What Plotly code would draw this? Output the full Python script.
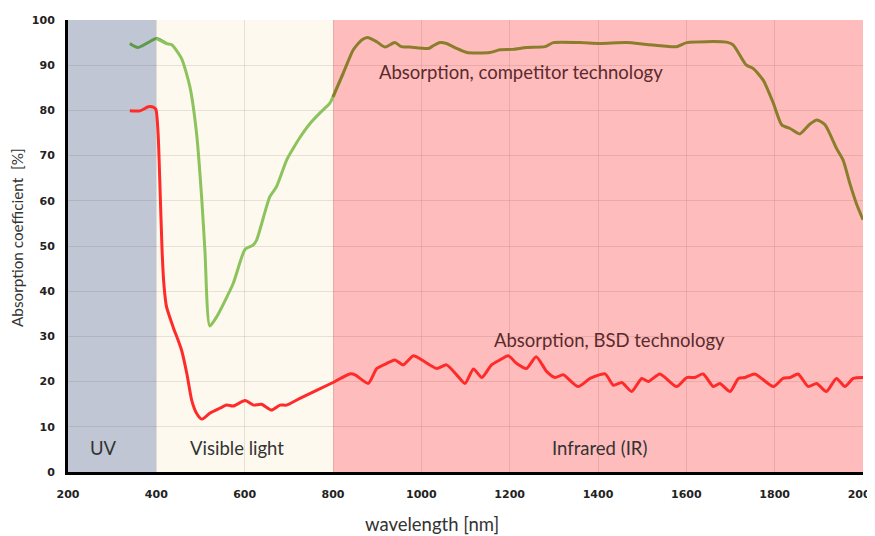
import numpy as np
import plotly.graph_objects as go

# Competitor technology absorption (%)
comp_nm = [340, 358, 381, 400, 423, 435, 457, 476, 491, 503, 510, 521, 537, 574, 601, 619, 627,
           657, 672, 695, 710, 725, 748, 770, 793, 800, 823, 846, 865, 880, 899, 918, 940, 955,
           974, 1016, 1027, 1042, 1057, 1080, 1103, 1155, 1178, 1208, 1238, 1280, 1299, 1359,
           1404, 1465, 1510, 1578, 1601, 1691, 1706, 1736, 1751, 1774, 1797, 1816, 1835, 1857,
           1880, 1896, 1914, 1940, 1955, 1970, 1985, 2000]
comp_val = [94.8, 93.9, 95.0, 95.9, 94.8, 94.5, 91.5, 85.2, 75.0, 60.2, 49.0, 32.3, 34.4, 41.7,
            49.3, 50.2, 51.3, 60.9, 63.1, 69.0, 71.6, 74.0, 77.1, 79.4, 81.6, 83.0, 88.2, 93.4,
            95.6, 96.1, 95.2, 94.0, 95.0, 94.1, 94.0, 93.7, 94.3, 95.0, 94.8, 93.7, 92.8, 92.8,
            93.4, 93.5, 93.9, 94.1, 95.0, 95.0, 94.8, 95.0, 94.6, 94.1, 95.0, 95.1, 94.5, 90.0,
            89.3, 86.7, 81.6, 76.8, 76.0, 74.8, 77.0, 77.9, 76.8, 71.6, 69.0, 63.9, 59.4, 55.8]

# BSD technology absorption (%)
bsd_nm = [340, 363, 382, 393, 399, 404, 408, 413, 417, 423, 438, 457, 469, 480, 491, 503, 521,
          544, 559, 574, 601, 620, 638, 661, 680, 695, 725, 800, 838, 850, 880, 899, 921, 940,
          959, 982, 1001, 1035, 1057, 1080, 1099, 1118, 1137, 1159, 1178, 1197, 1216, 1238,
          1260, 1284, 1303, 1321, 1355, 1382, 1416, 1435, 1454, 1476, 1499, 1514, 1540, 1578,
          1601, 1619, 1638, 1661, 1676, 1699, 1718, 1733, 1755, 1797, 1819, 1835, 1853, 1876,
          1895, 1917, 1940, 1959, 1978, 2000]
bsd_val = [79.9, 79.9, 80.8, 80.7, 80.2, 74.9, 63.9, 49.0, 41.7, 36.6, 32.1, 27.0, 21.8, 15.9,
           13.0, 11.7, 13.0, 14.1, 14.8, 14.6, 15.8, 14.8, 15.0, 13.7, 14.8, 14.8, 16.3, 19.8,
           21.7, 21.5, 19.6, 22.9, 24.0, 24.8, 23.7, 25.7, 24.8, 22.9, 23.7, 21.5, 19.6, 22.8,
           20.9, 23.7, 24.8, 25.7, 24.0, 22.9, 25.5, 22.2, 20.9, 21.5, 18.9, 20.7, 21.7, 19.2,
           19.8, 17.8, 20.7, 20.0, 21.7, 18.9, 20.9, 20.9, 21.7, 18.9, 19.6, 17.8, 20.7, 20.9,
           21.7, 18.9, 20.7, 20.9, 21.7, 18.9, 19.6, 17.8, 20.7, 18.9, 20.7, 20.9]

# Spectral regions
region_names = ["UV", "Visible light", "Infrared (IR)"]
region_start = [200, 400, 800]
region_end = [400, 800, 2000]
region_colors = ["#c0c6d3", "#fdf9ee", "#ffbcbc"]
comp_colors = ["#5f9a4c", "#8cc35c", "#8a7d2c"]

x_ticks = [200, 400, 600, 800, 1000, 1200, 1400, 1600, 1800, 2000]
y_ticks = [0, 10, 20, 30, 40, 50, 60, 70, 80, 90, 100]

fig = go.Figure()

cx = np.array(comp_nm)
cy = np.array(comp_val)
for s, e, col in zip(region_start, region_end, comp_colors):
    m = (cx >= s) & (cx <= e)
    xs = list(cx[m])
    ys = list(cy[m])
    idx = np.where(m)[0]
    if len(idx) and idx[-1] + 1 < len(cx):
        xs.append(cx[idx[-1] + 1]); ys.append(cy[idx[-1] + 1])
    fig.add_trace(go.Scatter(x=xs, y=ys, mode="lines",
                             line=dict(color=col, width=3, shape="spline", smoothing=0.6),
                             hoverinfo="skip", showlegend=False))

fig.add_trace(go.Scatter(x=bsd_nm, y=bsd_val, mode="lines",
                         line=dict(color="#ff2a2a", width=3, shape="spline", smoothing=0.6),
                         showlegend=False))

for s, e, c in zip(region_start, region_end, region_colors):
    fig.add_shape(type="rect", xref="x", yref="y", x0=s, x1=e, y0=0, y1=100,
                  fillcolor=c, line=dict(width=0), layer="below")

label_font = dict(family="Lato", size=18.5, color="#333333")
label_x = [281, 583, 1404]
for lx, name in zip(label_x, region_names):
    fig.add_annotation(x=lx, y=5.3, text=name, showarrow=False, font=label_font)

fig.add_annotation(x=1226, y=88.5, text="Absorption, competitor technology", showarrow=False,
                   font=dict(family="Lato", size=18.5, color="#5a2a2c"))
fig.add_annotation(x=1427, y=29.2, text="Absorption, BSD technology", showarrow=False,
                   font=dict(family="Lato", size=18.5, color="#5a2a2c"))

# axis titles
fig.add_annotation(xref="paper", yref="paper", x=(432 - 68) / 795, y=(472 - 524) / 452,
                   xanchor="center", yanchor="middle",
                   text="wavelength [nm]", showarrow=False,
                   font=dict(family="Lato", size=18.5, color="#333333"))
fig.add_annotation(xref="paper", yref="paper", x=(17 - 68) / 795, y=(472 - 238) / 452,
                   xanchor="center", yanchor="middle",
                   text="Absorption coefficient  [%]", showarrow=False, textangle=-90,
                   font=dict(family="Lato", size=15.3, color="#333333"))

# page body has an 8px margin, so the figure is sized/margined to land the plot at the same place
fig.update_layout(
    width=867, height=528,
    margin=dict(l=60, r=12, t=12, b=64),
    paper_bgcolor="white", plot_bgcolor="white",
    font=dict(family="Lato", color="#404040"),
)
fig.update_xaxes(range=[200, 2000], tickvals=x_ticks, ticktext=[str(v) for v in x_ticks],
                 showgrid=True, gridcolor="rgba(90,60,40,0.13)", gridwidth=1,
                 showline=True, linecolor="black", linewidth=3, zeroline=False,
                 ticks="outside", ticklen=10, tickcolor="rgba(0,0,0,0)",
                 ticklabeloverflow="allow", automargin=False,
                 tickfont=dict(family="DejaVu Sans", size=11, color="#222", weight="bold"))
fig.update_yaxes(range=[0, 100], tickvals=y_ticks, ticktext=[str(v) for v in y_ticks],
                 showgrid=True, gridcolor="rgba(90,60,40,0.13)", gridwidth=1,
                 showline=True, linecolor="black", linewidth=3, zeroline=False,
                 ticks="outside", ticklen=8, tickcolor="rgba(0,0,0,0)",
                 ticklabeloverflow="allow", automargin=False,
                 tickfont=dict(family="DejaVu Sans", size=11, color="#222", weight="bold"))

fig.write_html("out.html")
